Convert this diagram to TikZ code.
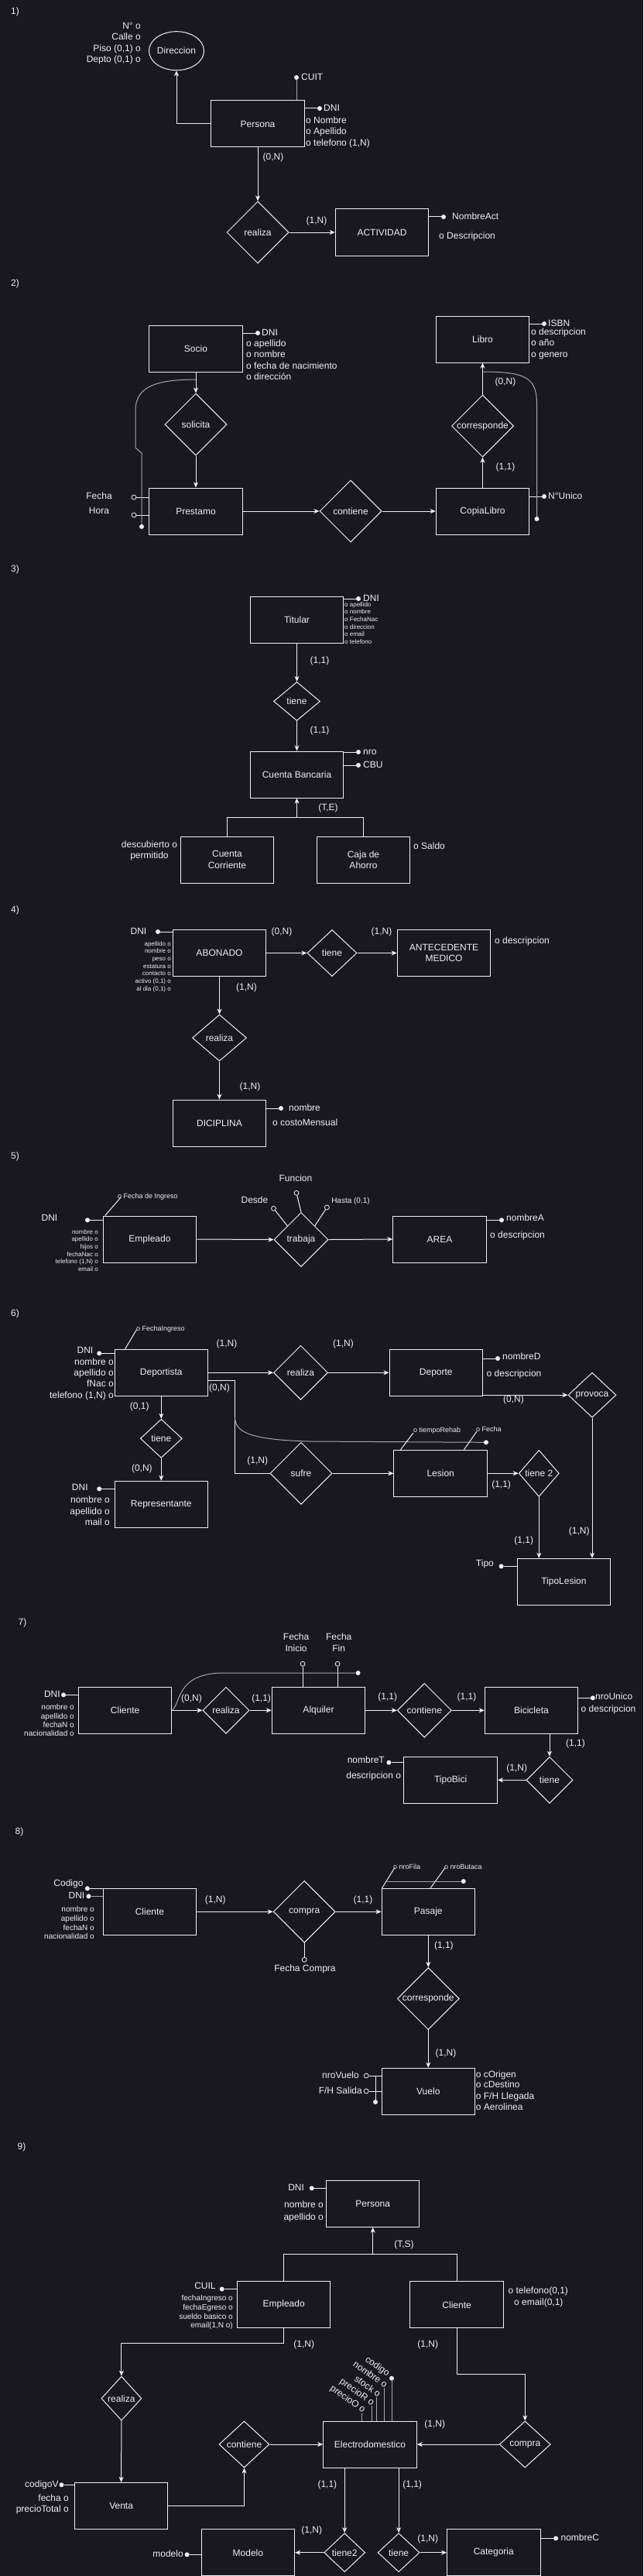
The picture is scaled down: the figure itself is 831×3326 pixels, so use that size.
\documentclass[tikz,border=0pt]{standalone}
\usepackage{fontspec}
\setmainfont{Liberation Sans}
\usetikzlibrary{arrows.meta,shapes.geometric,calc}
\definecolor{bg}{HTML}{19171F}
\definecolor{fg}{HTML}{F0F0F0}
\definecolor{gr}{HTML}{A8A8A8}
\newcommand\ftw{\fontsize{12pt}{14.4pt}\selectfont}
\newcommand\ften{\fontsize{10pt}{12pt}\selectfont}
\newcommand\fnin{\fontsize{9pt}{10.8pt}\selectfont}
\newcommand\feig{\fontsize{8pt}{9.6pt}\selectfont}
\begin{document}
\begin{tikzpicture}[x=1pt,y=-1pt,
  every node/.append style={text=fg},
  every label/.style={inner sep=0pt, font=\ftw, text=fg},
  ent/.style={draw=fg, fill=bg, line width=1pt, minimum width=120.5pt, minimum height=60pt, inner sep=0pt, align=center, font=\ftw},
  rel/.style 2 args={diamond, draw=fg, fill=bg, line width=1pt, inner sep=0pt, minimum width=#1, minimum height=#2},
  t/.style={inner sep=0pt, font=\ftw, text height=9pt, text depth=2.6pt},
  t10/.style={inner sep=0pt, font=\ften, text height=7.5pt, text depth=2.1pt},
  t9/.style={inner sep=0pt, font=\fnin, text height=6.8pt, text depth=1.9pt},
  t8/.style={inner sep=0pt, font=\feig, text height=6pt, text depth=1.7pt},
  arr/.style={draw=fg, line width=1pt, -{Stealth[length=7pt,width=6pt,inset=2pt]}},
  ln/.style={draw=fg, line width=1pt},
  lg/.style={draw=gr, line width=1pt},
  kd/.style={circle, fill=fg, inner sep=0pt, minimum size=6pt},
  od/.style={circle, draw=fg, fill=bg, line width=0.8pt, inner sep=0pt, minimum size=6pt}]
\fill[bg] (0,0) rectangle (831,3326);
\useasboundingbox (0,0) rectangle (831,3326);

% ---------------- 1
\node[t,anchor=west] (h1) at (14,15) {1)};
\node[draw=fg, fill=bg, ellipse, line width=1pt, minimum width=71pt, minimum height=50pt, inner sep=0pt, label={center:Direccion}] (dir1) at (228,65.7) {};
\node[t,anchor=east] (a11) at (182,34) {N° o};
\node[t,anchor=east] (a12) at (182,48) {Calle o};
\node[t,anchor=east] (a13) at (182,63) {Piso (0,1) o};
\node[t,anchor=east] (a14) at (182,77) {Depto (0,1) o};
\node[ent] (per1) at (333,160) {Persona};
\draw[arr] (per1.west) -| (dir1.south);
\node[kd] (cuit1) at (383,100) {};
\draw[lg] (cuit1) -- (cuit1 |- per1.north);
\node[t,anchor=west] (a15) at (389,100) {CUIT};
\node[kd] (dni1) at (413,140) {};
\draw[ln] (dni1) -- (dni1 -| per1.east);
\node[t,anchor=west] (a16) at (418,140) {DNI};
\node[t,anchor=west] (a17) at (395,156) {o Nombre};
\node[t,anchor=west] (a18) at (395,170) {o Apellido};
\node[t,anchor=west] (a19) at (395,185) {o telefono (1,N)};
\node[rel={80pt}{80pt}, label={center:realiza}] (rea1) at (333,300) {};
\draw[arr] (per1.south) -- (rea1.north);
\node[t] (c11) at (353,203) {(0,N)};
\node[ent] (act1) at (493.5,300) {ACTIVIDAD};
\draw[arr] (rea1.east) -- (act1.west);
\node[t] (c12) at (409,285) {(1,N)};
\node[kd] (na1) at (573,280) {};
\draw[ln] (na1) -- (na1 -| act1.east);
\node[t,anchor=west] (a1a) at (584,280) {NombreAct};
\node[t,anchor=west] (a1b) at (567,305) {o Descripcion};

% ---------------- 2
\node[t,anchor=west] (h2) at (14,366) {2)};
\node[ent] (soc2) at (253,450) {Socio};
\node[kd] (dni2) at (333,430) {};
\draw[ln] (dni2) -- (dni2 -| soc2.east);
\node[t,anchor=west] (a21) at (338,430) {DNI};
\node[t,anchor=west] (a22) at (318,444) {o apellido};
\node[t,anchor=west] (a23) at (318,458) {o nombre};
\node[t,anchor=west] (a24) at (318,473) {o fecha de nacimiento};
\node[t,anchor=west] (a25) at (318,487) {o dirección};
\node[rel={80pt}{80pt}, label={center:solicita}] (sol2) at (253,548) {};
\node[ent] (pre2) at (253,660) {Prestamo};
\draw[arr] (soc2.south) -- (sol2.north);
\draw[arr] (sol2.south) -- (pre2.north);
\node[od] (fe2) at (173,642) {};
\node[od] (ho2) at (173,665) {};
\draw[ln] (fe2) -- (fe2 -| pre2.west);
\draw[ln] (ho2) -- (ho2 -| pre2.west);
\node[t] (a26) at (128,641) {Fecha};
\node[t] (a27) at (128,660) {Hora};
\coordinate (c2a) at (253,490);
\node[kd] (c2d) at (183,680) {};
\draw[lg] (c2a) .. controls (200,490) and (175,500) .. (175,530) -- (175,578) -- (183,585) -- (c2d);
\node[rel={80pt}{80pt}, label={center:contiene}] (con2) at (453,660) {};
\node[ent] (cop2) at (623.5,660) {CopiaLibro};
\draw[arr] (pre2.east) -- (con2.west);
\draw[arr] (con2.east) -- (cop2.west);
\node[kd] (nu2) at (703,641) {};
\draw[ln] (nu2) -- (nu2 -| cop2.east);
\node[t,anchor=west] (a28) at (708,641) {N°Unico};
\node[rel={80pt}{80pt}, label={center:corresponde}] (cor2) at (623.5,550) {};
\draw[arr] (cop2.north) -- (cor2.south);
\node[t] (c21) at (653,603) {(1,1)};
\node[ent] (lib2) at (623.5,438) {Libro};
\draw[arr] (cor2.north) -- (lib2.south);
\node[t] (c22) at (653,493) {(0,N)};
\node[kd] (isbn2) at (703,418) {};
\draw[ln] (isbn2) -- (isbn2 -| lib2.east);
\node[t,anchor=west] (a29) at (708,418) {ISBN};
\node[t,anchor=west] (a2a) at (686,429) {o descripcion};
\node[t,anchor=west] (a2b) at (686,443) {o año};
\node[t,anchor=west] (a2c) at (686,458) {o genero};
\coordinate (c2b) at (623.5,480);
\node[kd] (c2e) at (693.5,670) {};
\draw[lg] (c2b) .. controls (680,480) and (693.5,488) .. (693.5,522) -- (c2e);

% ---------------- 3
\node[t,anchor=west] (h3) at (14,735) {3)};
\node[ent] (tit3) at (383.5,800) {Titular};
\node[kd] (dni3) at (463,773) {};
\draw[ln] (dni3) -- (dni3 -| tit3.east);
\node[t,anchor=west] (a31) at (469,773) {DNI};
\node[t8,anchor=west] (a32) at (445,781.3) {o apellido};
\node[t8,anchor=west] (a33) at (445,790.5) {o nombre};
\node[t8,anchor=west] (a34) at (445,800) {o FechaNac};
\node[t8,anchor=west] (a35) at (445,810) {o direccion};
\node[t8,anchor=west] (a36) at (445,819.3) {o email};
\node[t8,anchor=west] (a37) at (445,829) {o telefono};
\node[rel={60pt}{50pt}, label={center:tiene}] (tie3) at (383.5,905.5) {};
\node[ent] (cb3) at (383.5,1000) {Cuenta Bancaria};
\draw[arr] (tit3.south) -- (tie3.north);
\draw[arr] (tie3.south) -- (cb3.north);
\node[t] (c31) at (413,853) {(1,1)};
\node[t] (c32) at (413,943) {(1,1)};
\node[kd] (nro3) at (463,971) {};
\draw[ln] (nro3) -- (nro3 -| cb3.east);
\node[t,anchor=west] (a38) at (469,971) {nro};
\node[kd] (cbu3) at (463,988) {};
\draw[ln] (cbu3) -- (cbu3 -| cb3.east);
\node[t,anchor=west] (a39) at (469,988) {CBU};
\node[ent] (cc3) at (293.5,1110) {Cuenta\\Corriente};
\node[ent] (ca3) at (469.5,1110) {Caja de\\Ahorro};
\coordinate (isa3) at (383.5,1055);
\draw[arr] (isa3) -- (cb3.south);
\draw[ln] (cc3.north) -- (cc3.north |- isa3) -- (ca3.north |- isa3) -- (ca3.north);
\node[t] (c33) at (424,1043) {(T,E)};
\node[inner sep=0pt, font=\ftw, align=center] (a3a) at (193,1098.5) {descubierto o\\permitido};
\node[t,anchor=west] (a3b) at (534,1093) {o Saldo};

% ---------------- 4
\node[t,anchor=west] (h4) at (14,1175) {4)};
\node[ent] (abo4) at (283.5,1230.5) {ABONADO};
\node[kd] (dni4) at (204,1203) {};
\draw[ln] (dni4) -- (dni4 -| abo4.west);
\node[t] (a41) at (179,1203) {DNI};
\node[t8,anchor=east] (a42) at (221,1219.3) {apellido o};
\node[t8,anchor=east] (a43) at (221,1228.7) {nombre o};
\node[t8,anchor=east] (a44) at (221,1238.5) {peso o};
\node[t8,anchor=east] (a45) at (221,1248.3) {estatura o};
\node[t8,anchor=east] (a46) at (221,1257.5) {contacto o};
\node[t8,anchor=east] (a47) at (221,1267.3) {activo (0,1) o};
\node[t8,anchor=east] (a48) at (221,1277.3) {al dia (0,1) o};
\node[rel={64pt}{60pt}, label={center:tiene}] (tie4) at (429,1230.5) {};
\draw[arr] (abo4.east) -- (tie4.west);
\node[t] (c41) at (364,1203) {(0,N)};
\node[ent] (ant4) at (573.5,1230.5) {ANTECEDENTE\\MEDICO};
\draw[arr] (tie4.east) -- (ant4.west);
\node[t] (c42) at (493,1203) {(1,N)};
\node[t,anchor=west] (a49) at (639,1215) {o descripcion};
\node[rel={70pt}{60pt}, label={center:realiza}] (rea4) at (283.5,1340) {};
\draw[arr] (abo4.south) -- (rea4.north);
\node[t] (c43) at (318.5,1275) {(1,N)};
\node[ent] (dic4) at (283.5,1450) {DICIPLINA};
\draw[arr] (rea4.south) -- (dic4.north);
\node[t] (c44) at (323,1403) {(1,N)};
\node[kd] (nom4) at (363,1431) {};
\draw[ln] (nom4) -- (nom4 -| dic4.east);
\node[t,anchor=west] (a4a) at (373,1431) {nombre};
\node[t,anchor=west] (a4b) at (352,1450) {o costoMensual};

% ---------------- 5
\node[t,anchor=west] (h5) at (14,1493) {5)};
\node[ent] (emp5) at (193.5,1600) {Empleado};
\node[kd] (dni5) at (113,1575.3) {};
\draw[ln] (dni5) -- (dni5 -| emp5.west);
\node[t] (a51) at (64,1573) {DNI};
\node[t8,anchor=east] (a52) at (127,1591) {nombre o};
\node[t8,anchor=east] (a53) at (127,1600.3) {apellido o};
\node[t8,anchor=east] (a54) at (127,1610.3) {hijos o};
\node[t8,anchor=east] (a55) at (127,1620) {fechaNac o};
\node[t8,anchor=east] (a56) at (127,1629.7) {telefono (1,N) o};
\node[t8,anchor=east] (a57) at (127,1639.3) {email o};
\coordinate (fi5) at (156,1546);
\draw[ln] (emp5.north west) ++(3,0) -- (fi5);
\node[t9,anchor=west] (a58) at (152,1545.3) {o Fecha de Ingreso};
\node[rel={70pt}{70pt}, label={center:trabaja}] (tra5) at (389,1600.5) {};
\draw[arr] (emp5.east) -- (tra5.west);
\node[od] (ds5) at (353.5,1560.3) {};
\draw[ln] (ds5) -- ($(tra5.west)!0.5!(tra5.north)$);
\node[t] (a59) at (329,1550) {Desde};
\node[od] (fu5) at (383,1540.3) {};
\draw[ln] (fu5) -- (tra5.north);
\node[t] (a5a) at (382,1522.7) {Funcion};
\node[od] (ha5) at (422.4,1559) {};
\draw[ln] (ha5) -- ($(tra5.north)!0.5!(tra5.east)$);
\node[t10] (a5b) at (453,1550.7) {Hasta (0,1)};
\node[ent] (are5) at (568,1600) {AREA};
\draw[arr] (tra5.east) -- (are5.west);
\node[kd] (nA5) at (648,1575.3) {};
\draw[ln] (nA5) -- (nA5 -| are5.east);
\node[t,anchor=west] (a5c) at (654,1573.3) {nombreA};
\node[t,anchor=west] (a5d) at (633,1595) {o descripcion};

% ---------------- 6
\node[t,anchor=west] (h6) at (14,1696) {6)};
\node[ent] (dep6) at (208.3,1772.3) {Deportista};
\coordinate (fi6) at (176.5,1716.7);
\draw[ln] (dep6.north west) ++(14,0) -- (fi6);
\node[t9,anchor=west] (a61) at (176,1716) {o FechaIngreso};
\node[kd] (dni6) at (128.2,1747.3) {};
\draw[ln] (dni6) -- (dni6 -| dep6.west);
\node[t] (a62) at (110,1744) {DNI};
\node[t,anchor=east] (a63) at (147,1759) {nombre o};
\node[t,anchor=east] (a64) at (147,1773.3) {apellido o};
\node[t,anchor=east] (a65) at (147,1787.3) {fNac o};
\node[t,anchor=east] (a66) at (147,1802.3) {telefono (1,N) o};
\node[rel={70pt}{70pt}, label={center:realiza}] (rea6) at (388.5,1772.3) {};
\draw[arr] (dep6.east) -- (rea6.west);
\node[t] (c61) at (293,1735) {(1,N)};
\node[ent] (dpt6) at (563.3,1772.3) {Deporte};
\draw[arr] (rea6.east) -- (dpt6.west);
\node[t] (c62) at (443.5,1735) {(1,N)};
\node[kd] (nD6) at (643,1754) {};
\draw[ln] (nD6) -- (nD6 -| dpt6.east);
\node[t,anchor=west] (a67) at (649,1752) {nombreD};
\node[t,anchor=west] (a68) at (628.5,1774) {o descripcion};
\node[rel={62pt}{58pt}, label={center:provoca}] (pro6) at (765,1801.2) {};
\draw[arr] (dpt6.east |- pro6.west) -- (pro6.west);
\node[t] (c63) at (663.5,1807) {(0,N)};
\node[ent] (tl6) at (728.4,2042.3) {TipoLesion};
\draw[arr] (pro6.south) -- (pro6.south |- tl6.north);
\node[t] (c64) at (748.3,1977) {(1,N)};
\node[kd] (tip6) at (647.6,2022.3) {};
\draw[ln] (tip6) -- (tip6 -| tl6.west);
\node[t] (a69) at (626.4,2019) {Tipo};
\node[rel={54pt}{50pt}, label={center:tiene}] (tie6) at (208.3,1857.3) {};
\draw[arr] (dep6.south) -- (tie6.north);
\node[t] (c65) at (180.2,1816.7) {(0,1)};
\node[ent] (rep6) at (208.3,1942.3) {Representante};
\draw[arr] (tie6.south) -- (rep6.north);
\node[t] (c66) at (183.4,1896.7) {(0,N)};
\node[kd] (dnr6) at (128.2,1922.3) {};
\draw[ln] (dnr6) -- (dnr6 -| rep6.west);
\node[t] (a6a) at (103.3,1921.7) {DNI};
\node[t,anchor=east] (a6b) at (142,1937.7) {nombre o};
\node[t,anchor=east] (a6c) at (142,1952) {apellido o};
\node[t,anchor=east] (a6d) at (142,1966.7) {mail o};
\node[rel={80pt}{80pt}, label={center:sufre}] (suf6) at (389,1902.3) {};
\coordinate (s6a) at (303.6,1782.3);
\draw[ln] (dep6.east |- s6a) -- (s6a) |- (suf6.west);
\node[t] (c67) at (283.5,1792.3) {(0,N)};
\node[t] (c68) at (332.8,1886.7) {(1,N)};
\coordinate (c6a) at (303.6,1830);
\node[kd] (c6d) at (628,1862.3) {};
\draw[lg] (c6a) .. controls (303.6,1848) and (320,1859) .. (400,1861) -- (c6d);
\node[ent] (les6) at (569.2,1902.3) {Lesion};
\draw[arr] (suf6.east) -- (les6.west);
\coordinate (tr6) at (534,1850);
\draw[ln] (les6.north west) ++(9,0) -- (tr6);
\node[t9,anchor=west] (a6e) at (534,1846.7) {o tiempoRehab};
\coordinate (fe6) at (615.8,1848.3);
\draw[ln] (les6.north east) ++(-30.5,0) -- (fe6);
\node[t9,anchor=west] (a6f) at (615,1845.7) {o Fecha};
\node[rel={52pt}{60pt}, label={center:tiene 2}] (ti26) at (696.3,1902.3) {};
\draw[arr] (les6.east) -- (ti26.west);
\node[t] (c69) at (647.6,1917.3) {(1,1)};
\draw[arr] (ti26.south) -- (ti26.south |- tl6.north);
\node[t] (c6b) at (676.7,1989.3) {(1,1)};

% ---------------- 7
\node[t,anchor=west] (h7) at (23.5,2095) {7)};
\node[ent] (cli7) at (161.6,2208.3) {Cliente};
\node[kd] (dni7) at (82.1,2188.3) {};
\draw[ln] (dni7) -- (dni7 -| cli7.west);
\node[t,anchor=east] (a71) at (77.9,2188.3) {DNI};
\node[t10,anchor=east] (a72) at (95.9,2205) {nombre o};
\node[t10,anchor=east] (a73) at (95.9,2216.7) {apellido o};
\node[t10,anchor=east] (a74) at (95.9,2227.7) {fechaN o};
\node[t10,anchor=east] (a75) at (95.9,2238.5) {nacionalidad o};
\node[rel={60pt}{60pt}, label={center:realiza}] (rea7) at (292,2208.3) {};
\draw[arr] (cli7.east) -- (rea7.west);
\node[t] (c71) at (247.5,2193.3) {(0,N)};
\node[ent] (alq7) at (411.5,2208.3) {Alquiler};
\draw[arr] (rea7.east) -- (alq7.west);
\node[t] (c72) at (337.6,2193) {(1,1)};
\node[od] (fi7) at (391.1,2148.3) {};
\draw[ln] (fi7) -- (fi7 |- alq7.north);
\node[inner sep=0pt, font=\ftw, align=center] (a76) at (382.6,2120.8) {Fecha\\Inicio};
\node[od] (ff7) at (436.1,2148.3) {};
\draw[ln] (ff7) -- (ff7 |- alq7.north);
\node[inner sep=0pt, font=\ftw, align=center] (a77) at (437.7,2120.8) {Fecha\\Fin};
\node[kd] (c7d) at (462.6,2160) {};
\draw[lg] (cli7.east) .. controls (234,2198) and (228,2162) .. (285,2160) -- (c7d);
\node[rel={70pt}{70pt}, label={center:contiene}] (con7) at (548.3,2208.3) {};
\draw[arr] (alq7.east) -- (con7.west);
\node[t] (c73) at (500.8,2191.7) {(1,1)};
\node[ent] (bic7) at (686.5,2208.3) {Bicicleta};
\draw[arr] (con7.east) -- (bic7.west);
\node[t] (c74) at (603,2191.7) {(1,1)};
\node[kd] (nu7) at (765.8,2192.3) {};
\draw[ln] (nu7) -- (nu7 -| bic7.east);
\node[t,anchor=west] (a78) at (769,2191.7) {nroUnico};
\node[t,anchor=west] (a79) at (750.5,2207.3) {o descripcion};
\node[rel={60pt}{60pt}, label={center:tiene}] (tie7) at (710,2298.3) {};
\draw[arr] (tie7.north |- bic7.south) -- (tie7.north);
\node[t] (c75) at (743.5,2251.7) {(1,1)};
\node[ent] (tb7) at (582.2,2298.3) {TipoBici};
\draw[arr] (tie7.west) -- (tb7.east);
\node[t] (c76) at (667.7,2283.3) {(1,N)};
\node[kd] (nT7) at (502.4,2275.7) {};
\draw[ln] (nT7) -- (nT7 -| tb7.west);
\node[t,anchor=east] (a7a) at (497,2273.7) {nombreT};
\node[t,anchor=east] (a7b) at (518.3,2293.3) {descripcion o};

% ---------------- 8
\node[t,anchor=west] (h8) at (19.5,2365) {8)};
\node[ent] (cli8) at (193.5,2468.3) {Cliente};
\node[kd] (cod8) at (112.9,2438.3) {};
\draw[ln] (cod8) -- (cod8 -| cli8.west);
\node[t] (a81) at (88.5,2432.3) {Codigo};
\node[kd] (dni8) at (114.5,2448.3) {};
\draw[lg] (dni8) -- (dni8 -| cli8.west);
\node[t] (a82) at (99,2448.3) {DNI};
\node[t10,anchor=east] (a83) at (121.9,2466) {nombre o};
\node[t10,anchor=east] (a84) at (121.9,2477.7) {apellido o};
\node[t10,anchor=east] (a85) at (121.9,2489.3) {fechaN o};
\node[t10,anchor=east] (a86) at (121.9,2501) {nacionalidad o};
\node[rel={80pt}{80pt}, label={center:compra}] (com8) at (393.2,2468.3) {};
\draw[arr] (cli8.east) -- (com8.west);
\node[t] (c81) at (278.2,2453.3) {(1,N)};
\node[od] (fc8) at (393.2,2530.3) {};
\draw[ln] (com8.south) -- (fc8);
\node[t] (a87) at (394,2542.3) {Fecha Compra};
\node[ent] (pas8) at (553.3,2468.3) {Pasaje};
\draw[arr] (com8.east) -- (pas8.west);
\node[t] (c82) at (469,2453.3) {(1,1)};
\coordinate (nf8) at (509.8,2411.7);
\draw[ln] (pas8.north west) ++(1,0) -- (nf8);
\node[t9,anchor=west] (a88) at (508,2411.3) {o nroFila};
\coordinate (nb8) at (575,2411.7);
\draw[ln] (pas8.north west) ++(63.5,0) -- (nb8);
\node[t9,anchor=west] (a89) at (574,2411.3) {o nroButaca};
\coordinate (cp8) at (499.5,2429);
\node[kd] (cpd8) at (598.8,2429) {};
\draw[lg] (cp8) -- (cpd8);
\node[rel={80pt}{80pt}, label={center:corresponde}] (cor8) at (553.3,2580.5) {};
\draw[arr] (pas8.south) -- (cor8.north);
\node[t] (c83) at (573.4,2512.7) {(1,1)};
\node[ent] (vue8) at (553.3,2700.3) {Vuelo};
\draw[arr] (cor8.south) -- (vue8.north);
\node[t] (c84) at (576,2651) {(1,N)};
\node[od] (nv8) at (473.2,2680) {};
\draw[ln] (nv8) -- (nv8 -| vue8.west);
\node[t,anchor=east] (a8a) at (464,2680) {nroVuelo};
\node[od] (fs8) at (473.2,2700) {};
\draw[ln] (fs8) -- (fs8 -| vue8.west);
\node[t,anchor=east] (a8b) at (468,2700) {F/H Salida};
\coordinate (vt8) at (485,2680);
\node[kd] (vd8) at (485,2714) {};
\draw[ln] (vt8) -- (vd8);
\node[t,anchor=west] (a8c) at (614.7,2679) {o cOrigen};
\node[t,anchor=west] (a8d) at (614.7,2692.7) {o cDestino};
\node[t,anchor=west] (a8e) at (614.7,2707.7) {o F/H Llegada};
\node[t,anchor=west] (a8f) at (614.7,2721.7) {o Aerolinea};

% ---------------- 9
\node[t] (h9) at (28,2772.7) {9)};
\node[ent] (per9) at (481.7,2845.3) {Persona};
\node[kd] (dni9) at (402.8,2825.3) {};
\draw[ln] (dni9) -- (dni9 -| per9.west);
\node[t] (a91) at (382.6,2825) {DNI};
\node[t,anchor=east] (a92) at (418.1,2847.7) {nombre o};
\node[t,anchor=east] (a93) at (418.1,2863.3) {apellido o};
\node[ent] (emp9) at (366.7,2975.7) {Empleado};
\node[ent] (cli9) at (590.1,2975.7) {Cliente};
\coordinate (isa9) at (481.7,2910.3);
\draw[arr] (isa9) -- (per9.south);
\draw[ln] (emp9.north) -- (emp9.north |- isa9) -- (cli9.north |- isa9) -- (cli9.north);
\node[t] (c91) at (522,2898) {(T,S)};
\node[kd] (cuil9) at (286.7,2955.5) {};
\draw[ln] (cuil9) -- (cuil9 -| emp9.west);
\node[t] (a94) at (265,2952.7) {CUIL};
\node[t10,anchor=east] (a95) at (301,2968) {fechaIngreso o};
\node[t10,anchor=east] (a96) at (301,2980) {fechaEgreso o};
\node[t10,anchor=east] (a97) at (301,2991.7) {sueldo basico o};
\node[t10,anchor=east] (a98) at (301,3003) {email(1,N o)};
\node[t] (a99) at (695.3,2958) {o telefono(0,1)};
\node[t] (a9a) at (695.8,2973) {o email(0,1)};
\node[rel={52pt}{57pt}, label={center:realiza}] (rea9) at (156.9,3096.7) {};
\coordinate (e9a) at (156.9,3025.3);
\draw[arr] (emp9.south) |- (e9a) -- (rea9.north);
\node[t] (c92) at (392.7,3027.7) {(1,N)};
\node[rel={66pt}{60pt}, label={center:compra}] (com9) at (678.3,3156) {};
\coordinate (c9a) at (678.3,3065);
\draw[arr] (cli9.south) |- (c9a) -- (com9.north);
\node[t] (c93) at (552.7,3027.7) {(1,N)};
\node[ent] (ven9) at (156.6,3235.4) {Venta};
\draw[arr] (rea9.south) -- (ven9.north);
\node[kd] (cv9) at (79.5,3208.3) {};
\draw[ln] (cv9) -- (cv9 -| ven9.west);
\node[t,anchor=east] (a9b) at (75.8,3208) {codigoV};
\node[t,anchor=east] (a9c) at (89,3226) {fecha o};
\node[t,anchor=east] (a9d) at (89,3240.7) {precioTotal o};
\node[rel={65pt}{60pt}, label={center:contiene}] (con9) at (315.5,3156) {};
\draw[arr] (ven9.east) -| (con9.south);
\node[ent] (ele9) at (478,3156) {Electrodomestico};
\draw[arr] (con9.east) -- (ele9.west);
\draw[arr] (com9.west) -- (ele9.east);
\node[t] (c94) at (561.7,3130) {(1,N)};
\coordinate (q1) at (467.7,3116);
\coordinate (q2) at (480,3105.5);
\coordinate (q3) at (486.5,3094.5);
\coordinate (q4) at (496,3083);
\node[kd] (q5) at (506,3070.7) {};
\draw[lg] (q1 |- ele9.north) -- (q1);
\draw[lg] (q2 |- ele9.north) -- (q2);
\draw[lg] (q3 |- ele9.north) -- (q3);
\draw[lg] (q4 |- ele9.north) -- (q4);
\draw[lg] (q5 |- ele9.north) -- (q5);
\node[t,rotate=-35,anchor=east] (r1) at (470.6,3113) {precioO o};
\node[t,rotate=-35,anchor=east] (r2) at (482.2,3103.7) {precioR o};
\node[t,rotate=-35,anchor=east] (r3) at (490.2,3092.7) {stock o};
\node[t,rotate=-35,anchor=east] (r4) at (498.9,3081) {nombre o};
\node[t,rotate=-35,anchor=east] (r5) at (502,3066) {codigo};
\node[rel={53pt}{50pt}, label={center:tiene2}] (t29) at (445.2,3295.7) {};
\draw[arr] (t29.north |- ele9.south) -- (t29.north);
\node[t] (c95) at (422.9,3208.3) {(1,1)};
\node[ent] (mod9) at (320.4,3295.7) {Modelo};
\draw[arr] (t29.west) -- (mod9.east);
\node[t] (c96) at (402.8,3267.3) {(1,N)};
\node[kd] (md9) at (241.6,3298.3) {};
\draw[ln] (md9) -- (md9 -| mod9.west);
\node[t,anchor=east] (a9e) at (236.9,3298) {modelo};
\node[rel={54pt}{50pt}, label={center:tiene}] (tie9) at (515.1,3295.7) {};
\draw[arr] (tie9.north |- ele9.south) -- (tie9.north);
\node[t] (c97) at (532.6,3208.3) {(1,1)};
\node[ent] (cat9) at (637.8,3295.7) {Categoria};
\draw[arr] (tie9.east) -- (cat9.west);
\node[t] (c98) at (552.7,3278.3) {(1,N)};
\node[kd] (nC9) at (718.1,3277.3) {};
\draw[ln] (nC9) -- (nC9 -| cat9.east);
\node[t,anchor=west] (a9f) at (724.4,3277) {nombreC};
\end{tikzpicture}
\end{document}
